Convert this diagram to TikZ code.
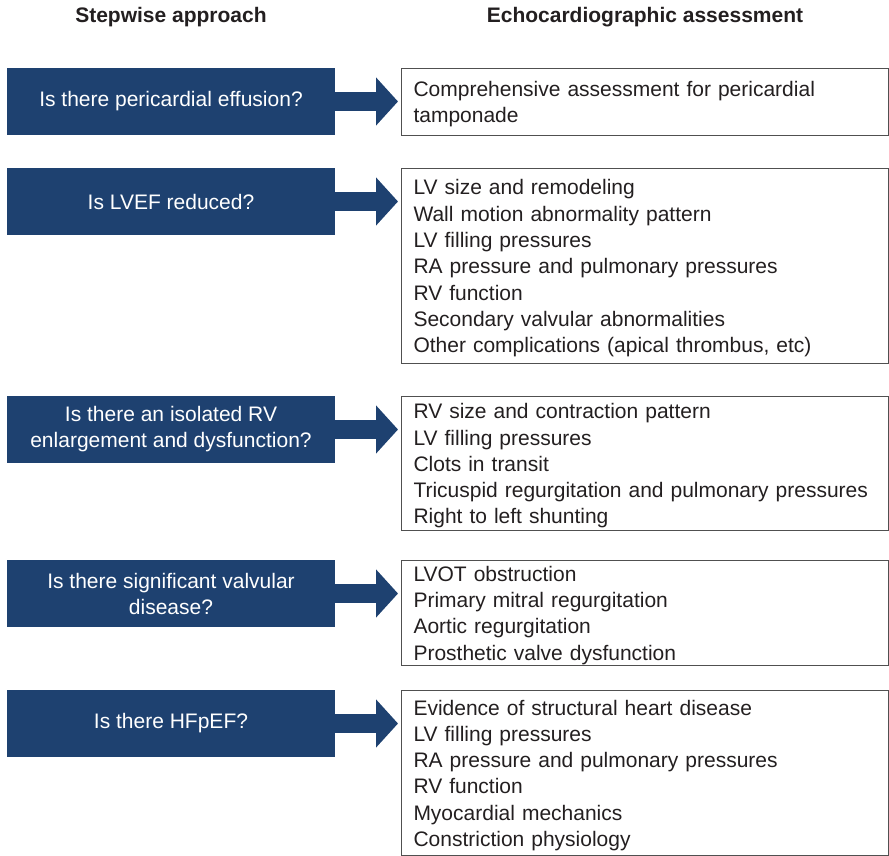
\documentclass[tikz,border=0pt]{standalone}
\usepackage{fontspec}
\setmainfont{Liberation Sans}
\usetikzlibrary{arrows.meta,calc}
\definecolor{qblue}{RGB}{30,65,112}
\definecolor{txt}{RGB}{35,31,32}
\definecolor{frame}{RGB}{80,80,80}
\begin{document}
\begin{tikzpicture}[x=1pt,y=-1pt,
  qbox/.style={fill=qblue, text=white, minimum width=328pt, minimum height=67pt, inner sep=0pt, align=center,
    font=\fontsize{21}{26}\selectfont},
  abox/.style={draw=frame, line width=1pt, anchor=north west, minimum width=487pt, inner xsep=12pt, inner ysep=0pt,
    text width=463pt, align=left, text=txt, font=\fontsize{21}{26.3}\selectfont,
    execute at begin node={\rule{0pt}{20pt}}},
  hdr/.style={font=\fontsize{21}{26}\selectfont\bfseries, text=txt},
  conn/.style={qblue, line width=19pt, -{Triangle[length=22pt,width=47pt]}, shorten >=3pt}
]
\useasboundingbox (0,0) rectangle (889,856);
\node[hdr] (h1) at (171,17) {Stepwise approach};
\node[hdr] (h2) at (645,17) {Echocardiographic assessment};

\node[qbox] (q1) at (171,101.5) {Is there pericardial effusion?};
\node[qbox] (q2) at (171,201.5) {Is LVEF reduced?};
\node[qbox] (q3) at (171,429.5) {Is there an isolated RV\\enlargement and dysfunction?};
\node[qbox] (q4) at (171,593.5) {Is there significant valvular\\disease?};
\node[qbox] (q5) at (171,723.5) {Is there HFpEF?};

\node[abox, minimum height=67pt] (a1) at (401,68) {Comprehensive assessment for pericardial\\tamponade};
\node[abox, minimum height=195pt] (a2) at (401,168) {LV size and remodeling\\Wall motion abnormality pattern\\LV filling pressures\\RA pressure and pulmonary pressures\\RV function\\Secondary valvular abnormalities\\Other complications (apical thrombus, etc)};
\node[abox, minimum height=134pt] (a3) at (401,396) {RV size and contraction pattern\\LV filling pressures\\Clots in transit\\Tricuspid regurgitation and pulmonary pressures\\Right to left shunting};
\node[abox, minimum height=105pt] (a4) at (401,560) {LVOT obstruction\\Primary mitral regurgitation\\Aortic regurgitation\\Prosthetic valve dysfunction};
\node[abox, minimum height=165pt] (a5) at (401,690) {Evidence of structural heart disease\\LV filling pressures\\RA pressure and pulmonary pressures\\RV function\\Myocardial mechanics\\Constriction physiology};

\draw[conn] (q1.east) -- (q1.east -| a1.west);
\draw[conn] (q2.east) -- (q2.east -| a2.west);
\draw[conn] (q3.east) -- (q3.east -| a3.west);
\draw[conn] (q4.east) -- (q4.east -| a4.west);
\draw[conn] (q5.east) -- (q5.east -| a5.west);
\end{tikzpicture}
\end{document}
